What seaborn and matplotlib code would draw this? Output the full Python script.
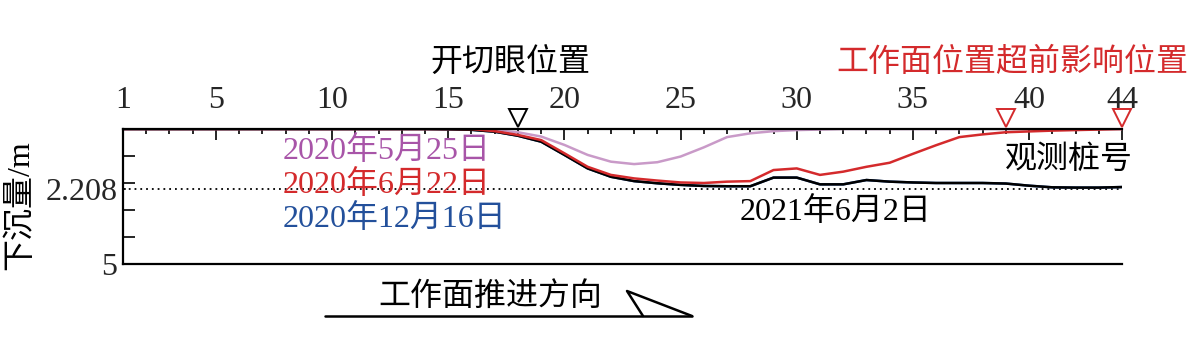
import matplotlib
matplotlib.use("Agg")
import matplotlib.pyplot as plt
import seaborn as sns
import numpy as np
import pandas as pd
from matplotlib.lines import Line2D

# ---- data ----
piles = list(range(1, 45))
s_0525 = [0]*15 + [0.02, 0.05, 0.12, 0.28, 0.59, 0.96, 1.21, 1.30, 1.23, 1.02, 0.68, 0.30,
                   0.16, 0.08, 0.04, 0.02] + [0]*13
s_0622 = [0]*16 + [0.08, 0.22, 0.41, 0.90, 1.40, 1.70, 1.83, 1.91, 1.98, 2.00, 1.95, 1.93,
                   1.52, 1.46, 1.70, 1.58, 1.40, 1.25, 0.92, 0.60, 0.30, 0.20, 0.12, 0.09,
                   0.06, 0.04, 0.02, 0.0]
s_1216 = [0]*14 + [0.01, 0.03, 0.10, 0.25, 0.47, 0.96, 1.46, 1.77, 1.93, 2.01, 2.07, 2.11,
                   2.12, 2.12, 1.80, 1.80, 2.05, 2.05, 1.89, 1.95, 1.98, 2.00, 2.00, 2.00,
                   2.02, 2.10, 2.16, 2.17, 2.17, 2.15]
s_210602 = [0]*14 + [0.01, 0.03, 0.10, 0.25, 0.47, 0.96, 1.46, 1.77, 1.93, 2.01, 2.07, 2.11,
                     2.12, 2.12, 1.80, 1.80, 2.05, 2.05, 1.89, 1.95, 1.98, 2.00, 2.00, 2.00,
                     2.02, 2.10, 2.16, 2.17, 2.17, 2.15]
max_subsidence = 2.208
cut_eye_pile = [18]
advance_piles = [39, 44]
x_tick_labels = [1, 5, 10, 15, 20, 25, 30, 35, 40, 44]
series_labels = ["2020年5月25日", "2020年6月22日", "2020年12月16日", "2021年6月2日"]

sns.set_style("ticks")
FAM = ["Liberation Serif", "Noto Sans CJK SC"]
plt.rcParams["font.family"] = FAM

W, H = 1190, 352
fig = plt.figure(figsize=(W/100, H/100), dpi=100)
ax = fig.add_axes([123/W, 1-264/H, (1122-123)/W, (264-129)/H])

df = pd.DataFrame({"pile": piles, "a": s_0525, "b": s_0622, "c": s_1216, "d": s_210602})
c_pink_line = "#c99ac8"
c_red = "#d42a2c"
c_blue = "#23509b"
sns.lineplot(data=df, x="pile", y="a", ax=ax, color=c_pink_line, lw=1.8)
sns.lineplot(data=df, x="pile", y="c", ax=ax, color=c_blue, lw=1.8)
sns.lineplot(data=df, x="pile", y="d", ax=ax, color="black", lw=1.8)
sns.lineplot(data=df, x="pile", y="b", ax=ax, color=c_red, lw=1.8)
ax.axhline(max_subsidence, color="black", ls=(0, (1, 2.2)), lw=1.3, zorder=1)

ax.set_xlim(1, 44)
ax.set_ylim(5, 0)
ax.set_xlabel("")
ax.set_ylabel("")

# spines
for sp in ["left", "top", "bottom"]:
    ax.spines[sp].set_linewidth(1.6)
    ax.spines[sp].set_color("black")
ax.spines["right"].set_visible(False)

# x ticks on top
ax.xaxis.tick_top()
ax.set_xticks(x_tick_labels)
ax.set_xticklabels([str(v) for v in x_tick_labels])
ax.set_xticks(piles, minor=True)
ax.tick_params(axis="x", which="major", direction="in", length=8, width=1.4, pad=10,
               labelsize=23, top=True, bottom=False)
ax.tick_params(axis="x", which="minor", direction="in", length=3.5, width=1.4,
               top=True, bottom=False)

# y ticks
ax.set_yticks([max_subsidence, 5])
ax.set_yticklabels(["2.208", "5"])
ax.set_yticks([1, 2, 3, 4], minor=True)
ax.tick_params(axis="y", which="major", direction="in", length=2, width=1.2, pad=4,
               labelsize=23)
ax.tick_params(axis="y", which="minor", direction="in", length=8.5, width=1.4)

# triangles
ax.plot(cut_eye_pile, [-0.42]*len(cut_eye_pile), marker="v", ms=13, mfc="white",
        mec="black", mew=1.4, ls="none", clip_on=False, zorder=5)
ax.plot(advance_piles, [-0.42]*len(advance_piles), marker="v", ms=13, mfc="white",
        mec=c_red, mew=1.4, ls="none", clip_on=False, zorder=5)

def ftext(x, y, s, **kw):
    fig.text(x/W, 1-y/H, s, family=FAM, fontsize=23, va="center", **kw)

ftext(430, 63, "开切眼位置", color="black", ha="left")
ftext(1188, 63, "工作面位置超前影响位置", color=c_red, ha="right")
ftext(283, 151, series_labels[0], color="#a855a8", ha="left")
ftext(283, 185, series_labels[1], color=c_red, ha="left")
ftext(283, 219, series_labels[2], color=c_blue, ha="left")
ftext(740, 212, series_labels[3], color="black", ha="left")
ftext(1005, 160, "观测桩号", color="black", ha="left")
ftext(20, 205, "下沉量/m", color="black", ha="center", rotation=90)
ftext(378, 297, "工作面推进方向", color="black", ha="left")

# direction arrow
def fline(xs, ys):
    fig.add_artist(Line2D([x/W for x in xs], [1-y/H for y in ys], color="black", lw=1.8,
                          transform=fig.transFigure))
fline([325, 692], [316, 316])
fline([643, 627, 692], [316, 291, 316])

fig.savefig("out.png", dpi=100)
